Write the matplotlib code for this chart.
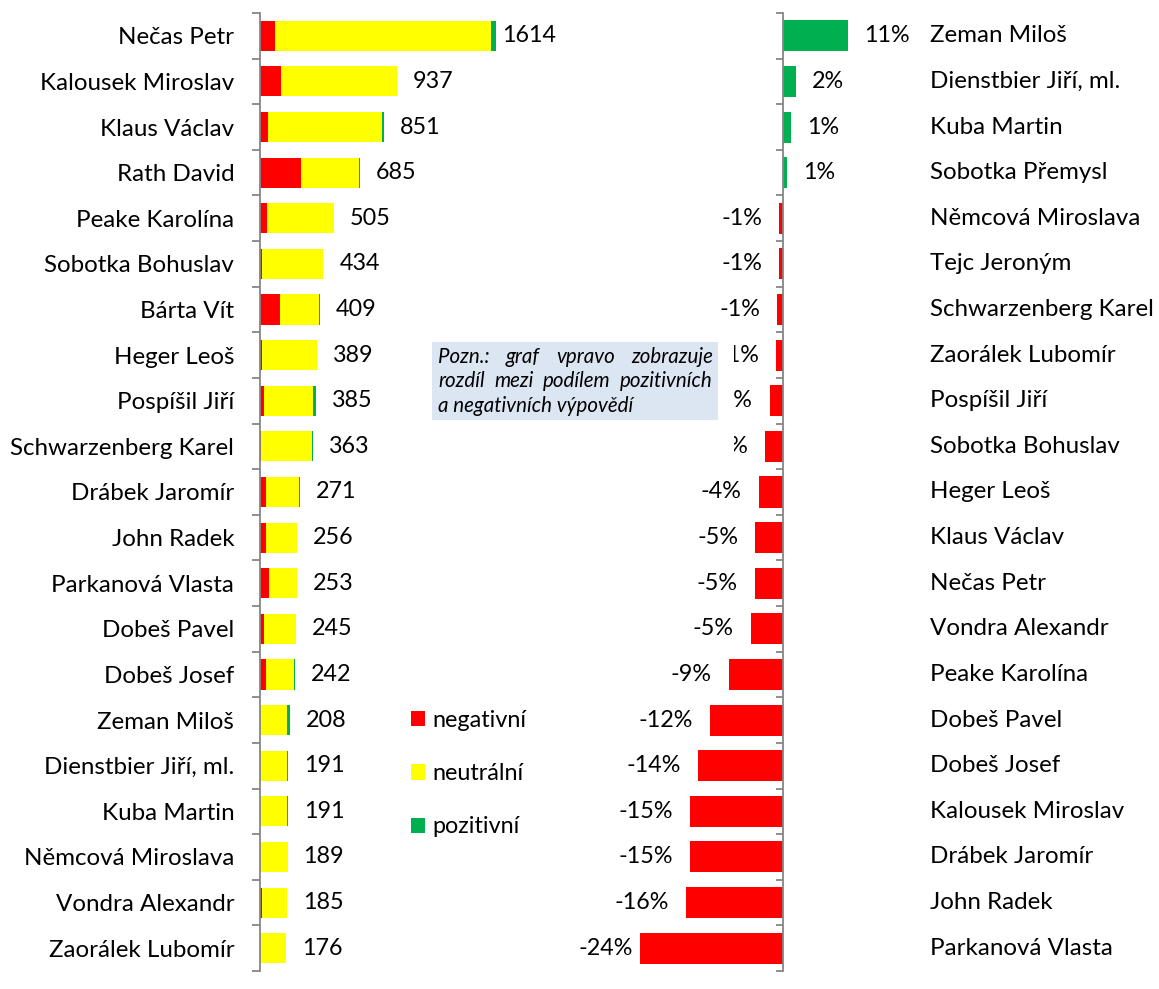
import matplotlib
matplotlib.use('Agg')
import matplotlib.pyplot as plt
from matplotlib.patches import Rectangle, Patch
from matplotlib.transforms import blended_transform_factory, offset_copy

plt.rcParams['font.family'] = ['Lato', 'DejaVu Sans']

# ---------------- data ----------------
left_names = ["Nečas Petr", "Kalousek Miroslav", "Klaus Václav", "Rath David",
              "Peake Karolína", "Sobotka Bohuslav", "Bárta Vít", "Heger Leoš",
              "Pospíšil Jiří", "Schwarzenberg Karel", "Drábek Jaromír", "John Radek",
              "Parkanová Vlasta", "Dobeš Pavel", "Dobeš Josef", "Zeman Miloš",
              "Dienstbier Jiří, ml.", "Kuba Martin", "Němcová Miroslava",
              "Vondra Alexandr", "Zaorálek Lubomír"]
left_neg = [105, 146, 52, 281, 46, 12, 139, 17, 28, 9, 43, 41, 60, 30, 40, 0, 0, 0, 1, 11, 2]
left_neu = [1480, 789, 786, 394, 458, 422, 265, 371, 337, 348, 227, 215, 193, 215, 196,
            185, 187, 188, 188, 173, 174]
left_pos = [29, 2, 13, 10, 1, 0, 5, 1, 20, 6, 1, 0, 0, 0, 6, 23, 4, 3, 0, 1, 0]

right_names = ["Zeman Miloš", "Dienstbier Jiří, ml.", "Kuba Martin", "Sobotka Přemysl",
               "Němcová Miroslava", "Tejc Jeroným", "Schwarzenberg Karel",
               "Zaorálek Lubomír", "Pospíšil Jiří", "Sobotka Bohuslav", "Heger Leoš",
               "Klaus Václav", "Nečas Petr", "Vondra Alexandr", "Peake Karolína",
               "Dobeš Pavel", "Dobeš Josef", "Kalousek Miroslav", "Drábek Jaromír",
               "John Radek", "Parkanová Vlasta"]
right_diff = [10.8, 2.2, 1.3, 0.7, -0.6, -0.6, -1.0, -1.1, -2.2, -2.9, -4.0, -4.6, -4.7,
              -5.3, -9.0, -12.1, -14.0, -15.4, -15.4, -16.0, -23.7]

legend_labels = ["negativní", "neutrální", "pozitivní"]
note_lines = ["Pozn.: graf vpravo zobrazuje",
              "rozdíl mezi podílem pozitivních",
              "a negativních výpovědí"]

RED, YEL, GRN = "#FF0000", "#FFFF00", "#00B050"
AXC = "#868686"
FS = 16.8      # numbers
NFS_CAT = 17.4 # category names

W, H = 1159, 989
fig = plt.figure(figsize=(W / 100, H / 100), dpi=100)

def fx(px):
    return px / W

def fy(py):
    return 1 - py / H

ax_top, ax_bot = 13, 971
ybot = fy(ax_bot)
yh = (ax_bot - ax_top) / H

# ---------------- left chart ----------------
L0, LW = 260, 300
axL = fig.add_axes([fx(L0), ybot, fx(LW), yh])
scaleL = 235.7 / 1614.0
axL.set_xlim(0, LW / scaleL)
n = len(left_names)
ys = list(range(n))
axL.set_ylim(n - 0.5, -0.5)
h = 0.66
lefts2 = [a + b for a, b in zip(left_neg, left_neu)]
axL.barh(ys, left_neg, height=h, color=RED, linewidth=0, label=legend_labels[0])
axL.barh(ys, left_neu, left=left_neg, height=h, color=YEL, linewidth=0, label=legend_labels[1])
axL.barh(ys, left_pos, left=lefts2, height=h, color=GRN, linewidth=0, label=legend_labels[2])

for s in ["top", "right", "bottom"]:
    axL.spines[s].set_visible(False)
axL.spines["left"].set_color(AXC)
axL.spines["left"].set_linewidth(1.3)
axL.set_xticks([])
axL.set_yticks(ys)
axL.set_yticklabels(left_names, fontsize=NFS_CAT)
axL.set_yticks([i - 0.5 for i in range(n + 1)], minor=True)
axL.tick_params(axis="y", which="major", length=0, pad=18.5)
axL.tick_params(axis="y", which="minor", length=5.8, width=1.3, color=AXC, direction="out")

tl = offset_copy(axL.transData, fig=fig, x=11.5, y=0, units="points")
left_val_texts = []
for i in ys:
    tot = left_neg[i] + left_neu[i] + left_pos[i]
    t = axL.text(tot, i, f"{tot}", transform=tl, ha="left", va="center", fontsize=FS)
    left_val_texts.append(t)

handles = [Patch(facecolor=RED), Patch(facecolor=YEL), Patch(facecolor=GRN)]
fig.legend(handles, legend_labels, loc="upper left",
           bbox_to_anchor=(fx(411), fy(710)), bbox_transform=fig.transFigure,
           frameon=False, fontsize=FS, handlelength=0.62, handleheight=0.62,
           handletextpad=0.3, labelspacing=1.38, borderpad=0.0, borderaxespad=0.0)

# ---------------- right chart ----------------
R0, RW = 600, 320
axis0 = 783
scaleR = 6.05
axR = fig.add_axes([fx(R0), ybot, fx(RW), yh])
axR.set_xlim(-(axis0 - R0) / scaleR, (R0 + RW - axis0) / scaleR)
m = len(right_names)
yr = list(range(m))
axR.set_ylim(m - 0.5, -0.5)
cols = [GRN if v > 0 else RED for v in right_diff]
axR.barh(yr, right_diff, height=0.68, color=cols, linewidth=0)
for s in ["top", "right", "bottom"]:
    axR.spines[s].set_visible(False)
axR.spines["left"].set_position(("data", 0))
axR.spines["left"].set_color(AXC)
axR.spines["left"].set_linewidth(1.3)
axR.set_xticks([])
axR.set_yticks([])
axR.set_yticks([i - 0.5 for i in range(m + 1)], minor=True)
axR.tick_params(axis="y", which="minor", length=5.2, width=1.3, color=AXC, direction="out",
                labelleft=False)

tpos = offset_copy(axR.transData, fig=fig, x=11.5, y=0, units="points")
tneg = offset_copy(axR.transData, fig=fig, x=-12.2, y=0, units="points")
right_val_texts = []
for i, v in enumerate(right_diff):
    lab = f"{v:.0f}%"
    if v > 0:
        t = axR.text(v, i, lab, transform=tpos, ha="left", va="center", fontsize=FS)
    else:
        t = axR.text(v, i, lab, transform=tneg, ha="right", va="center", fontsize=FS)
    right_val_texts.append(t)

tn = blended_transform_factory(fig.transFigure, axR.transData)
for i, name in enumerate(right_names):
    axR.text(fx(930), i, name, transform=tn, ha="left", va="center", fontsize=NFS_CAT)

# clamp labels within chart areas (as the spreadsheet does)
fig.canvas.draw()
r = fig.canvas.get_renderer()
for t in right_val_texts:
    bb = t.get_window_extent(r)
    if bb.x0 < 578:
        dx = 578 - bb.x0
        t.set_transform(offset_copy(t.get_transform(), fig=fig, x=dx, y=0, units="dots"))
for t in left_val_texts:
    bb = t.get_window_extent(r)
    if bb.x1 > 556:
        dx = 556 - bb.x1
        t.set_transform(offset_copy(t.get_transform(), fig=fig, x=dx, y=0, units="dots"))

# ---------------- note box ----------------
fig.add_artist(Rectangle((fx(430), fy(480)), fx(734 - 430), (480 - 340) / H,
                         transform=fig.transFigure, facecolor="white", edgecolor="none", zorder=5))
fig.add_artist(Rectangle((fx(432), fy(420)), fx(718 - 432), (420 - 342) / H,
                         transform=fig.transFigure, facecolor="#DCE6F2", edgecolor="none", zorder=6))
NFS = 14.8
xL, xR = 438, 713
line_y = [357, 381.5, 406]
fig.canvas.draw()
r = fig.canvas.get_renderer()
for k, line in enumerate(note_lines):
    if k < len(note_lines) - 1:
        words = line.split(" ")
        tmp = [fig.text(0, 0, w_, fontsize=NFS, style="italic") for w_ in words]
        widths = [t.get_window_extent(r).width for t in tmp]
        for t in tmp:
            t.remove()
        gap = (xR - xL - sum(widths)) / (len(words) - 1)
        x = xL
        for w_, wd in zip(words, widths):
            fig.text(fx(x), fy(line_y[k]), w_, fontsize=NFS, style="italic",
                     ha="left", va="center", zorder=7)
            x += wd + gap
    else:
        fig.text(fx(xL), fy(line_y[k]), line, fontsize=NFS, style="italic",
                 ha="left", va="center", zorder=7)

fig.savefig("out.png", dpi=100)
